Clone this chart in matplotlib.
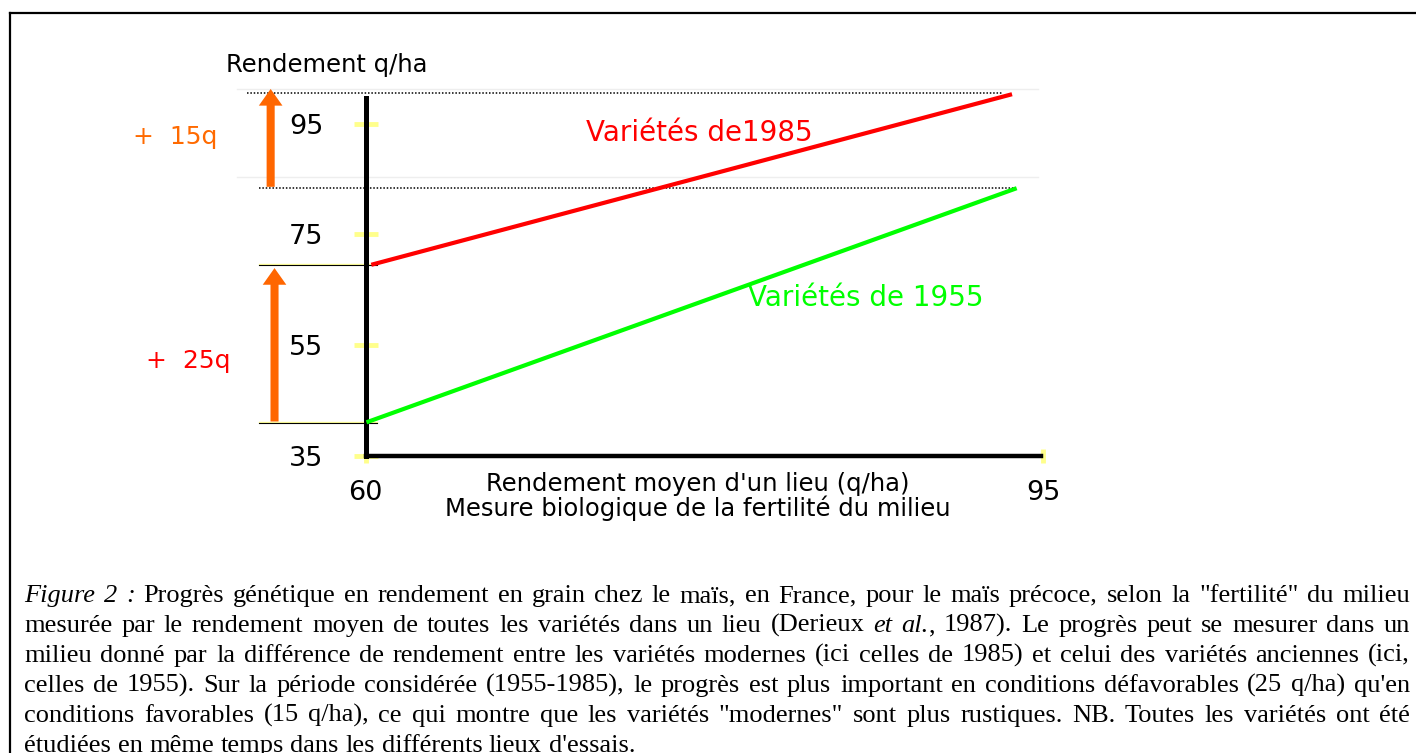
import matplotlib
matplotlib.use("Agg")
import matplotlib.pyplot as plt
from matplotlib.lines import Line2D

# chart values
x_1985 = [60.3, 93.4]
y_1985 = [69.5, 100.35]
x_1955 = [60.05, 93.64]
y_1955 = [41.0, 83.35]
y_ticks = [35, 55, 75, 95]
x_ticks = [60, 95]

# reference levels and gain arrows
dot_levels = [100.5, 83.45]
dot_x_start = [53.9, 54.5]
dot_x_end = [92.9, 93.6]
faint_levels = [101.3, 85.4]
low_levels = [69.4, 40.8]
arrow_x = [55.1, 55.3]
arrow_bottom = [83.6, 41.15]
arrow_top = [101.3, 68.9]
gain_labels = ["+  15q", "+  25q"]
gain_colors = ["#ff6a00", "#ff0000"]

caption_lines = [
    [[("Figure", "italic")], [("2", "italic")], [(":", "italic")], "Progrès", "génétique", "en",
     "rendement", "en", "grain", "chez", "le", "maïs,", "en", "France,", "pour", "le", "maïs",
     "précoce,", "selon", "la", "\"fertilité\"", "du", "milieu"],
    ["mesurée", "par", "le", "rendement", "moyen", "de", "toutes", "les", "variétés", "dans", "un",
     "lieu", "(Derieux", [("et", "italic")], [("al.", "italic"), (",", "normal")], "1987).", "Le",
     "progrès", "peut", "se", "mesurer", "dans", "un"],
    "milieu donné par la différence de rendement entre les variétés modernes (ici celles de 1985) et celui des variétés anciennes (ici,".split(),
    "celles de 1955). Sur la période considérée (1955-1985), le progrès est plus important en conditions défavorables (25 q/ha) qu'en".split(),
    "conditions favorables (15 q/ha), ce qui montre que les variétés \"modernes\" sont plus rustiques. NB. Toutes les variétés ont été".split(),
    "étudiées en même temps dans les différents lieux d'essais.".split(),
]

W, H = 1416, 753
fig = plt.figure(figsize=(W / 100, H / 100), dpi=100)
fig.patch.set_facecolor("white")

# frame around the figure
fig.add_artist(Line2D([10 / W, 1], [1 - 13 / H, 1 - 13 / H], color="black", lw=1.6))
fig.add_artist(Line2D([10 / W, 10 / W], [0, 1 - 13 / H], color="black", lw=1.6))

x0, x1 = 365.5, 1043
y0, y1 = 455.5, 97.7
ax = fig.add_axes([x0 / W, 1 - y0 / H, (x1 - x0) / W, (y0 - y1) / H])
ax.set_xlim(60, 95)
ax.set_ylim(35, 99.72)
ax.patch.set_alpha(0)

sans = "DejaVu Sans"
for s in ["top", "right"]:
    ax.spines[s].set_visible(False)
ax.spines["left"].set_linewidth(3.6)
ax.spines["bottom"].set_linewidth(3.2)
ax.spines["bottom"].set_bounds(60, 94.9)
ax.spines["left"].set_zorder(3)
ax.spines["bottom"].set_zorder(3)

ax.set_yticks(y_ticks)
ax.set_yticklabels([str(v) for v in y_ticks])
ax.set_xticks(x_ticks)
ax.set_xticklabels([str(v) for v in x_ticks])
ax.tick_params(axis="y", direction="inout", length=17, width=3.5, color="#ffff8c",
               pad=22, labelsize=19.5)
ax.tick_params(axis="x", direction="inout", length=10, width=3.5, color="#ffff8c",
               pad=13, labelsize=19.5)
for lab in ax.get_xticklabels() + ax.get_yticklabels():
    lab.set_fontfamily(sans)

# faint and dotted reference lines
for lev in faint_levels:
    ax.plot([53.35, 94.75], [lev, lev], color="#eeeeee", lw=1, clip_on=False, zorder=1)
for lev, xa, xb in zip(dot_levels, dot_x_start, dot_x_end):
    ax.plot([xa, xb], [lev, lev], color="black", lw=1.1, ls=(0, (1, 1.2)), clip_on=False, zorder=2)
for lev in low_levels:
    ax.plot([54.5, 60.6], [lev + 0.2, lev + 0.2], color="#ffff99", lw=1, clip_on=False, zorder=2)
    ax.plot([54.5, 60.6], [lev, lev], color="black", lw=0.8, clip_on=False, zorder=2)

# variety lines
ax.plot(x_1985, y_1985, color="#ff0000", lw=3, solid_capstyle="butt", clip_on=False, zorder=4)
ax.plot(x_1955, y_1955, color="#00ff00", lw=3, solid_capstyle="butt", clip_on=False, zorder=4)

# gain arrows
for xa, yb, yt in zip(arrow_x, arrow_bottom, arrow_top):
    ax.annotate("", xy=(xa, yt), xytext=(xa, yb), annotation_clip=False,
                arrowprops=dict(facecolor="#ff6600", edgecolor="none", width=5.8,
                                headwidth=17, headlength=12, shrink=0))

ax.text(50.16, 91.35, gain_labels[0], color=gain_colors[0], fontsize=18, family=sans,
        ha="center", va="baseline")
ax.text(50.83, 50.83, gain_labels[1], color=gain_colors[1], fontsize=18, family=sans,
        ha="center", va="baseline")

ax.text(77.23, 91.89, "Variétés de1985", color="#ff0000", fontsize=20, family=sans,
        ha="center", va="baseline")
ax.text(85.86, 62.04, "Variétés de 1955", color="#00ff00", fontsize=20, family=sans,
        ha="center", va="baseline")

ax.text(58.0, 104.37, "Rendement q/ha", fontsize=17.5, family=sans, ha="center", va="baseline")
ax.text(77.18, 28.6, "Rendement moyen d'un lieu (q/ha)", fontsize=17.5, family=sans,
        ha="center", va="baseline")
ax.text(77.18, 24.1, "Mesure biologique de la fertilité du milieu", fontsize=17.5, family=sans,
        ha="center", va="baseline")

# justified caption, placed word by word
serif = "Liberation Serif"
cap_size = 19
fig.canvas.draw()
renderer = fig.canvas.get_renderer()


def seg_width(s, style):
    t = fig.text(0, 0, s, fontsize=cap_size, family=serif, style=style)
    w = t.get_window_extent(renderer).width
    t.remove()
    return w


left, right = 24, 1410
base0, step = 602, 30
for i, line in enumerate(caption_lines):
    words = []
    for w in line:
        if isinstance(w, str):
            w = [(w, "normal")]
        words.append(w)
    widths = [sum(seg_width(s, st) for s, st in w) for w in words]
    if i < len(caption_lines) - 1:
        gap = (right - left - sum(widths)) / (len(words) - 1)
    else:
        gap = seg_width("a b", "normal") - seg_width("ab", "normal")
    xpos = left
    ypos = 1 - (base0 + i * step) / H
    for w, wd in zip(words, widths):
        xs = xpos
        for s, st in w:
            fig.text(xs / W, ypos, s, fontsize=cap_size, family=serif, style=st,
                     va="baseline", ha="left")
            xs += seg_width(s, st)
        xpos += wd + gap

fig.savefig("out.png", dpi=100, facecolor="white")
